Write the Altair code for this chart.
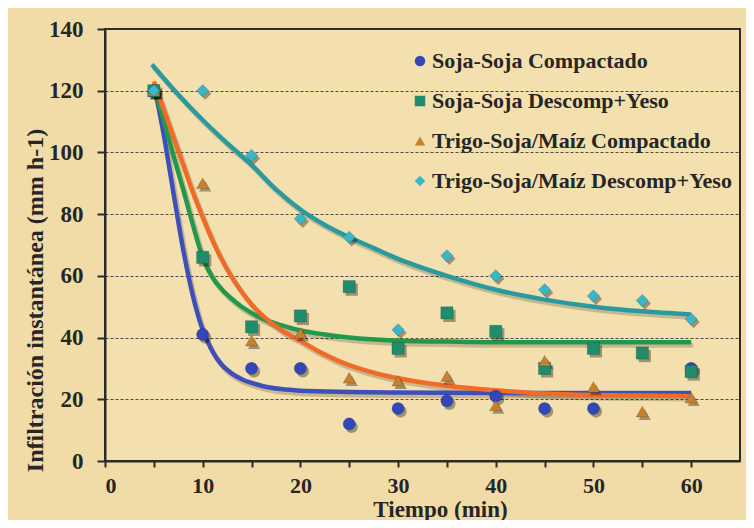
import altair as alt
import pandas as pd

# ---------------- data ----------------
series_names = [
    "Soja-Soja Compactado",
    "Soja-Soja Descomp+Yeso",
    "Trigo-Soja/Maíz Compactado",
    "Trigo-Soja/Maíz Descomp+Yeso",
]

t_points = [5, 10, 15, 20, 25, 30, 35, 40, 45, 50, 55, 60]
ss_comp = [120, 41, 30, 30, 12, 17, 19.5, 21, 17, 17, None, 30]
ss_desc = [120, 66, 43.5, 47, 56.5, 36.5, 48, 42, 30, 36.5, 35, 29]
ts_comp = [120, 90, 39, 41.5, 27, 26, 27.5, 18, 32.5, 24, 16, 20.5]
ts_desc = [120, 120, 99, 78.5, 72.5, 42.5, 66.5, 60, 55.5, 53.5, 52, 46]

# fitted curves
curve_ss_comp_t = [5, 6, 7, 8, 9, 10, 11, 12, 13, 14, 15, 16, 18, 20, 25, 30, 40, 50, 60]
curve_ss_comp_v = [122, 106, 87, 68.6, 53.5, 42.5, 35.5, 31, 28.3, 26.5, 25.3, 24.4, 23.3, 22.8, 22.4, 22.2, 22, 22, 22]

curve_ss_desc_t = [5, 6, 7, 8, 9, 10, 11, 12, 13, 14, 15, 16, 18, 20, 22.5, 25, 30, 35, 40, 50, 60]
curve_ss_desc_v = [121, 110.5, 99, 88, 76.5, 66, 59.5, 55.5, 52.5, 50, 48, 46.3, 44, 42.3, 41, 40, 39, 38.7, 38.5, 38.5, 38.5]

curve_ts_comp_t = [5, 6, 7, 8, 9, 10, 11, 12, 13, 14, 15, 16, 18, 20, 22, 24, 26, 28, 30, 33, 35, 40, 45, 50, 55, 60]
curve_ts_comp_v = [123, 114, 105, 96, 87, 79, 71.5, 65, 59.5, 54.8, 50.8, 47.5, 42.5, 39, 35.3, 32.3, 30, 28.2, 26.8, 25.2, 24.4, 22.9, 21.9, 21.4, 21.2, 21]

curve_ts_desc_t = [4.8, 7, 10, 12.5, 15, 17.5, 20, 22.5, 25, 27.5, 30, 35, 40, 45, 50, 55, 60]
curve_ts_desc_v = [128.5, 120.5, 110.5, 103, 96, 88, 81.5, 76.5, 72.5, 69, 65.5, 60, 55.5, 52.3, 50, 48.5, 47.5]

x_ticks = [0, 5, 10, 15, 20, 25, 30, 35, 40, 45, 50, 55, 60]
y_ticks = [0, 20, 40, 60, 80, 100, 120, 140]

point_colors = ["#3447b8", "#1f8c6b", "#c9802c", "#38b7c9"]
line_colors = ["#3d4fba", "#22994a", "#f06a28", "#2b9a9e"]
shapes = ["circle", "square", "triangle-up", "diamond"]

# ---------------- tables ----------------
pt_rows = []
for name, vals in zip(series_names, [ss_comp, ss_desc, ts_comp, ts_desc]):
    for t, v in zip(t_points, vals):
        if v is not None:
            pt_rows.append({"serie": name, "t": t, "v": v})
points = pd.DataFrame(pt_rows)

cv_rows = []
for name, ts, vs in zip(
    series_names,
    [curve_ss_comp_t, curve_ss_desc_t, curve_ts_comp_t, curve_ts_desc_t],
    [curve_ss_comp_v, curve_ss_desc_v, curve_ts_comp_v, curve_ts_desc_v],
):
    for t, v in zip(ts, vs):
        cv_rows.append({"serie": name, "t": t, "v": v})
curves = pd.DataFrame(cv_rows)

FONT = "'Liberation Serif', 'Times New Roman', Tinos, serif"
TXT = "#262626"

x_enc = alt.X(
    "t:Q",
    scale=alt.Scale(domain=[0, 65], nice=False, zero=False),
    axis=alt.Axis(
        values=x_ticks,
        labelExpr="datum.value % 10 == 0 ? datum.label : ''",
        labelFontSize=22,
        grid=False,
        title="Tiempo (min)",
        titleFontSize=23,
        titleX=335,
        titleY=55,
        titleAlign="center",
        titleBaseline="alphabetic",
        tickSize=6,
        labelPadding=8,
    ),
)
y_enc = alt.Y(
    "v:Q",
    scale=alt.Scale(domain=[0, 140], nice=False),
    axis=alt.Axis(
        values=y_ticks,
        grid=True,
        title="Infiltración instantánea (mm h-1)",
        titleX=-63,
        titleY=271,
        titleAlign="center",
        titleBaseline="alphabetic",
        tickSize=8,
        labelPadding=14,
    ),
)

legend = alt.Legend(
    title=None,
    orient="none",
    legendX=304,
    legendY=21,
    padding=0,
    symbolSize=110,
    symbolStrokeWidth=0,
    symbolOpacity=1,
    labelFont=FONT,
    labelFontSize=22,
    labelFontWeight="bold",
    labelColor=TXT,
    labelOffset=1,
    labelLimit=500,
    rowPadding=18,
)

fill_scale = alt.Scale(domain=series_names, range=point_colors)
shape_scale = alt.Scale(domain=series_names, range=shapes)

line_shadow = alt.Chart(curves).mark_line(
    interpolate="monotone", strokeWidth=5, color="#000000", opacity=0.18, xOffset=2, yOffset=3
).encode(x=x_enc, y=y_enc, detail="serie:N")

line_layers = []
for name, col in zip(series_names, line_colors):
    line_layers.append(
        alt.Chart(curves)
        .transform_filter(alt.datum.serie == name)
        .mark_line(interpolate="monotone", strokeWidth=4.5, color=col)
        .encode(x=x_enc, y=y_enc)
    )

pt_shadow = alt.Chart(points).mark_point(
    filled=True, size=150, color="#000000", opacity=0.35, xOffset=2.5, yOffset=3
).encode(
    x=x_enc,
    y=y_enc,
    shape=alt.Shape("serie:N", scale=shape_scale, legend=legend),
)

pts = alt.Chart(points).mark_point(
    filled=True, size=150, opacity=1, stroke="#1a1a1a", strokeWidth=0.4, strokeOpacity=0.5
).encode(
    x=x_enc,
    y=y_enc,
    fill=alt.Fill("serie:N", scale=fill_scale, legend=legend),
    shape=alt.Shape("serie:N", scale=shape_scale, legend=legend),
)

chart = (
    alt.layer(line_shadow, *line_layers, pt_shadow, pts)
    .properties(
        width=635,
        height=432,
        background="#f1dca8",
        padding={"left": 97, "top": 21, "right": 6, "bottom": 59},
        autosize=alt.AutoSizeParams(type="none"),
    )
    .configure_view(stroke="#2b2b2b", strokeWidth=2, fill="#f3e0ae")
    .configure_axis(
        domainColor="#2b2b2b",
        domainWidth=2,
        tickColor="#2b2b2b",
        tickWidth=2,
        labelFont=FONT,
        labelFontSize=23,
        labelFontWeight="bold",
        labelColor=TXT,
        titleFont=FONT,
        titleFontSize=24,
        titleFontWeight="bold",
        titleColor=TXT,
        gridColor="#3a3a3a",
        gridDash=[3, 2],
        gridWidth=1.2,
        gridOpacity=0.9,
    )
)

chart.save("out.html", embed_options={"renderer": "svg", "actions": False})
